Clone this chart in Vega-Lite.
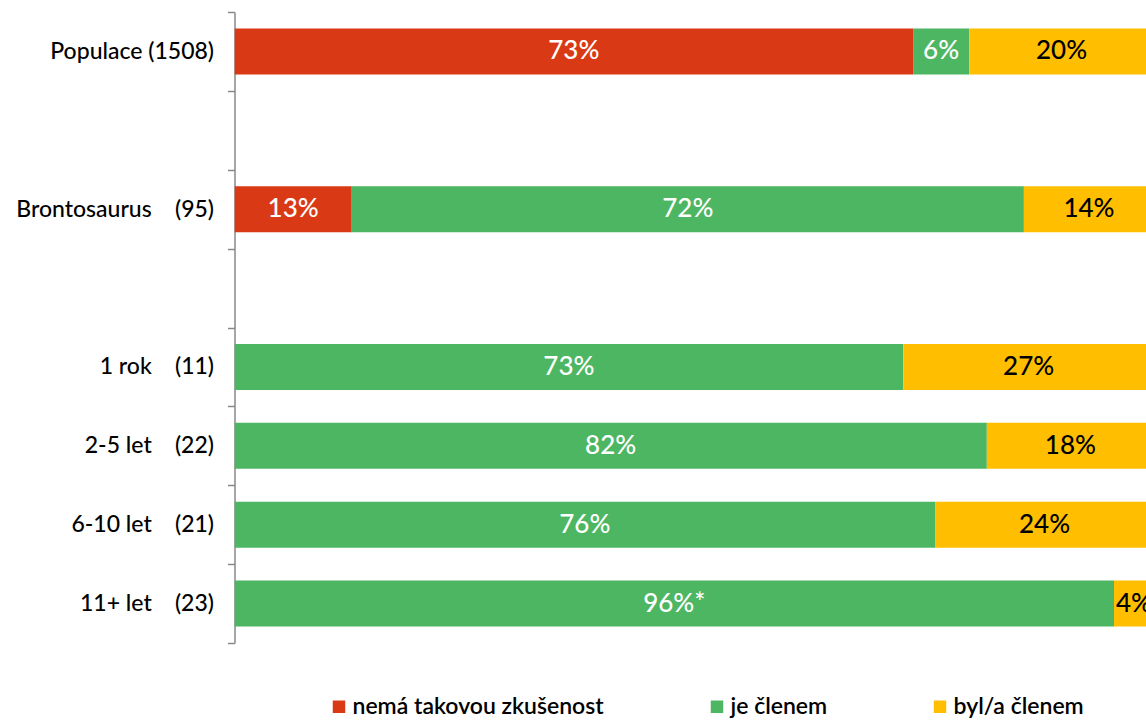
{
  "$schema": "https://vega.github.io/schema/vega-lite/v6.json",
  "width": 911.5,
  "height": 631,
  "autosize": {"type": "none"},
  "padding": {"left": 234.5, "top": 12, "right": 0, "bottom": 77},
  "config": {"view": {"stroke": null}, "font": "Lato"},
  "data": {
    "values": [
      {"group": "Populace (1508)", "cat": "nemá takovou zkušenost", "o": 1, "pct": 73.8, "label": "73%"},
      {"group": "Populace (1508)", "cat": "je členem", "o": 2, "pct": 6.1, "label": "6%"},
      {"group": "Populace (1508)", "cat": "byl/a členem", "o": 3, "pct": 20.1, "label": "20%"},
      {"group": "Brontosaurus\u00a0\u00a0\u00a0\u00a0(95)", "cat": "nemá takovou zkušenost", "o": 1, "pct": 12.75, "label": "13%"},
      {"group": "Brontosaurus\u00a0\u00a0\u00a0\u00a0(95)", "cat": "je členem", "o": 2, "pct": 73.1, "label": "72%"},
      {"group": "Brontosaurus\u00a0\u00a0\u00a0\u00a0(95)", "cat": "byl/a členem", "o": 3, "pct": 14.15, "label": "14%"},
      {"group": "1 rok\u00a0\u00a0\u00a0\u00a0(11)", "cat": "je členem", "o": 2, "pct": 72.73, "label": "73%"},
      {"group": "1 rok\u00a0\u00a0\u00a0\u00a0(11)", "cat": "byl/a členem", "o": 3, "pct": 27.27, "label": "27%"},
      {"group": "2-5 let\u00a0\u00a0\u00a0\u00a0(22)", "cat": "je členem", "o": 2, "pct": 81.82, "label": "82%"},
      {"group": "2-5 let\u00a0\u00a0\u00a0\u00a0(22)", "cat": "byl/a členem", "o": 3, "pct": 18.18, "label": "18%"},
      {"group": "6-10 let\u00a0\u00a0\u00a0\u00a0(21)", "cat": "je členem", "o": 2, "pct": 76.19, "label": "76%"},
      {"group": "6-10 let\u00a0\u00a0\u00a0\u00a0(21)", "cat": "byl/a členem", "o": 3, "pct": 23.81, "label": "24%"},
      {"group": "11+ let\u00a0\u00a0\u00a0\u00a0(23)", "cat": "je členem", "o": 2, "pct": 95.65, "label": "96%*"},
      {"group": "11+ let\u00a0\u00a0\u00a0\u00a0(23)", "cat": "byl/a členem", "o": 3, "pct": 4.35, "label": "4%"}
    ]
  },
  "encoding": {
    "y": {
      "field": "group",
      "type": "nominal",
      "title": null,
      "scale": {
        "domain": [
          "Populace (1508)",
          "g1",
          "Brontosaurus\u00a0\u00a0\u00a0\u00a0(95)",
          "g2",
          "1 rok\u00a0\u00a0\u00a0\u00a0(11)",
          "2-5 let\u00a0\u00a0\u00a0\u00a0(22)",
          "6-10 let\u00a0\u00a0\u00a0\u00a0(21)",
          "11+ let\u00a0\u00a0\u00a0\u00a0(23)"
        ],
        "paddingInner": 0,
        "paddingOuter": 0
      },
      "axis": {
        "labelExpr": "datum.value === 'g1' || datum.value === 'g2' ? '' : datum.value",
        "domainColor": "#888888",
        "domainWidth": 1.5,
        "tickColor": "#888888",
        "tickWidth": 1.5,
        "tickSize": 7,
        "tickBand": "extent",
        "labelPadding": 14,
        "labelFontSize": 23,
        "labelFontWeight": 500,
        "labelFont": "Lato",
        "labelColor": "#000000",
        "labelLimit": 400,
        "grid": false
      }
    }
  },
  "layer": [
    {
      "mark": {"type": "bar", "clip": true, "height": {"band": 0.583}},
      "encoding": {
        "x": {
          "field": "pct",
          "type": "quantitative",
          "stack": "zero",
          "scale": {"domain": [0, 99.13], "nice": false, "zero": true},
          "axis": null
        },
        "color": {
          "field": "cat",
          "type": "nominal",
          "scale": {
            "domain": ["nemá takovou zkušenost", "je členem", "byl/a členem"],
            "range": ["#DA3915", "#4DB662", "#FFBF00"]
          },
          "legend": {
            "orient": "none",
            "legendX": 93,
            "legendY": 683,
            "padding": 0,
            "direction": "horizontal",
            "title": null,
            "symbolType": "square",
            "symbolSize": 156,
            "symbolStrokeWidth": 0,
            "labelFontSize": 23,
            "labelFont": "Lato",
            "labelFontWeight": 600,
            "labelColor": "#000000",
            "labelOffset": 2,
            "columnPadding": 101,
            "labelLimit": 400
          }
        },
        "order": {"field": "o", "type": "quantitative"}
      }
    },
    {
      "transform": [
        {"stack": "pct", "groupby": ["group"], "sort": [{"field": "o", "order": "ascending"}], "as": ["x0", "x1"]},
        {"calculate": "(datum.x0 + datum.x1) / 2", "as": "mid"}
      ],
      "mark": {"type": "text", "clip": true, "fontSize": 26, "fontWeight": 500, "font": "Lato", "baseline": "middle", "align": "center"},
      "encoding": {
        "x": {"field": "mid", "type": "quantitative"},
        "text": {"field": "label", "type": "nominal"},
        "color": {
          "condition": {"test": "datum.cat === 'byl/a členem'", "value": "#000000"},
          "value": "#ffffff"
        }
      }
    }
  ]
}
